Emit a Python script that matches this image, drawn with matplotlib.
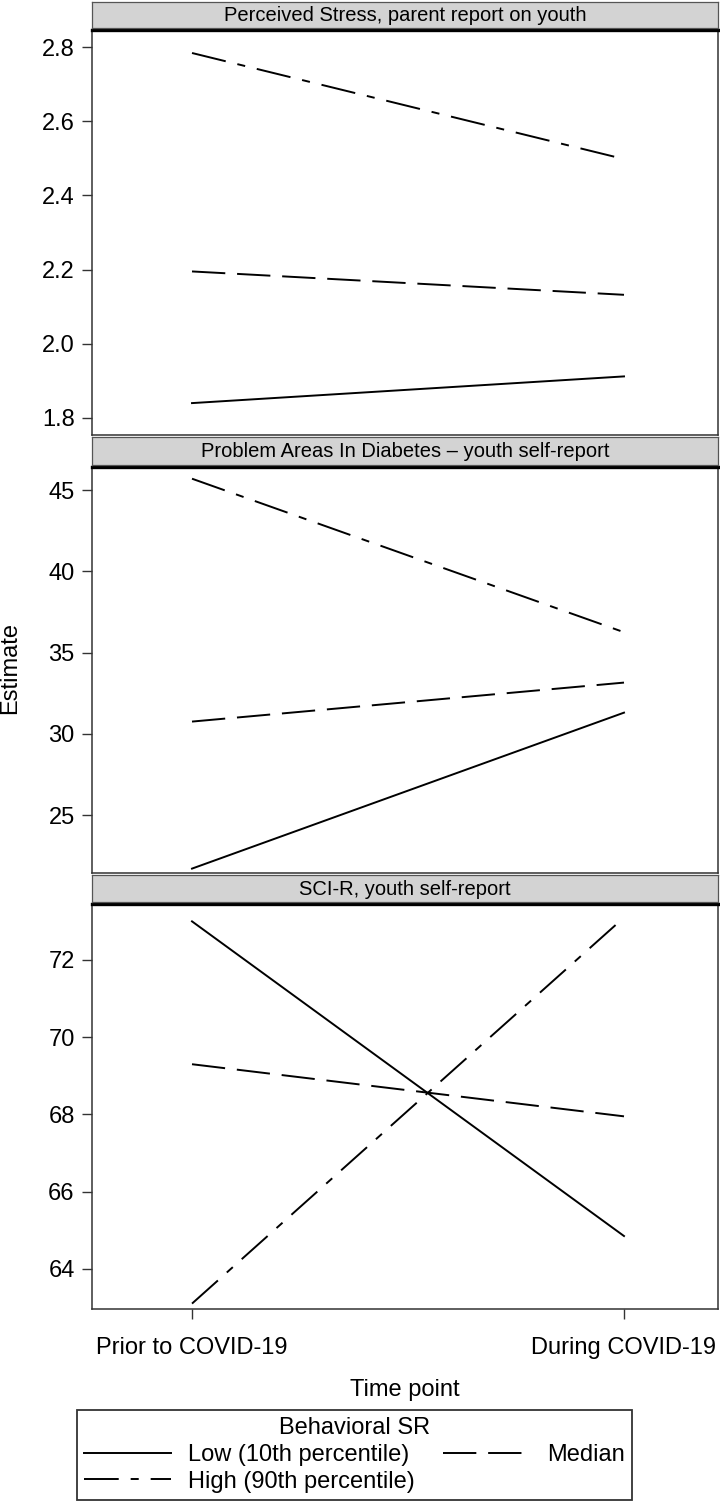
import matplotlib.pyplot as plt
from matplotlib.lines import Line2D

plt.rcParams['font.family'] = ['Liberation Sans', 'DejaVu Sans']
plt.rcParams['lines.scale_dashes'] = False

# data
time_points = ['Prior to COVID-19', 'During COVID-19']
groups = ['Low (10th percentile)', 'Median', 'High (90th percentile)']
panel_titles = ['Perceived Stress, parent report on youth',
                'Problem Areas In Diabetes \u2013 youth self-report',
                'SCI-R, youth self-report']

stress_low = [1.84, 1.912]
stress_median = [2.195, 2.132]
stress_high = [2.784, 2.498]

paid_low = [21.7, 31.3]
paid_median = [30.75, 33.15]
paid_high = [45.7, 36.25]

scir_low = [73.0, 64.85]
scir_median = [69.3, 67.95]
scir_high = [63.1, 73.1]

y_ticks = [[1.8, 2.0, 2.2, 2.4, 2.6, 2.8],
           [25, 30, 35, 40, 45],
           [64, 66, 68, 70, 72]]
y_limits = [(1.754, 2.846), (21.43, 46.42), (62.96, 73.45)]
tick_fmt = ['{:.1f}', '{:.0f}', '{:.0f}']

panels = [(stress_low, stress_median, stress_high),
          (paid_low, paid_median, paid_high),
          (scir_low, scir_median, scir_high)]

styles = [dict(linestyle='-'),
          dict(dashes=(24, 8.5)),
          dict(dashes=(25, 8.6, 5.8, 8.6))]

W, H = 720, 1502
fig = plt.figure(figsize=(W / 100, H / 100), dpi=100)


def box(x0, y0, x1, y1):
    return [x0 / W, 1 - y1 / H, (x1 - x0) / W, (y1 - y0) / H]


axes_px = [(30, 435), (467, 873), (904, 1309)]
head_px = [(2, 28), (437, 465), (875, 902)]
spine_col = '#333333'

for i, (vals, (top, bot), (htop, hbot)) in enumerate(zip(panels, axes_px, head_px)):
    ax = fig.add_axes(box(92, top, 718, bot))
    for v, st in zip(vals, styles):
        ax.plot([0, 1], v, color='black', linewidth=1.4, **st)
    ax.set_xlim(-0.2315, 1.2176)
    ax.set_ylim(*y_limits[i])
    ax.set_yticks(y_ticks[i])
    ax.set_yticklabels([tick_fmt[i].format(t) for t in y_ticks[i]])
    ax.tick_params(axis='y', length=7, width=1, labelsize=17, pad=5.5,
                   color=spine_col)
    for s in ['left', 'right', 'bottom']:
        ax.spines[s].set_color(spine_col)
        ax.spines[s].set_linewidth(1.1)
    ax.spines['top'].set_color('black')
    ax.spines['top'].set_linewidth(2.4)
    if i < 2:
        ax.set_xticks([])
    else:
        ax.set_xticks([0, 1])
        ax.set_xticklabels(time_points)
        ax.tick_params(axis='x', length=7, width=1, labelsize=17, pad=13,
                       color=spine_col)

    hax = fig.add_axes(box(92, htop, 718, hbot))
    hax.set_facecolor('#d3d3d3')
    hax.set_xticks([])
    hax.set_yticks([])
    for s in hax.spines.values():
        s.set_color('#555555')
        s.set_linewidth(0.9)
    hax.text(0.5, 0.47, panel_titles[i], ha='center', va='center',
             fontsize=14.5, transform=hax.transAxes)

fig.text(10 / W, 1 - 668 / H, 'Estimate', rotation=90, ha='center',
         va='center', fontsize=17)
fig.text(405 / W, 1 - 1390 / H, 'Time point', ha='center', va='center',
         fontsize=17)

handles = [Line2D([], [], color='black', linewidth=1.4, **styles[0]),
           Line2D([], [], color='black', linewidth=1.4, **styles[2]),
           Line2D([], [], color='black', linewidth=1.4, **styles[1])]
labels = [groups[0], groups[2], groups[1]]
leg = fig.legend(handles, labels, ncol=2, title='Behavioral SR',
                 loc='upper left', bbox_to_anchor=(77 / W, 1 - 1410 / H),
                 fontsize=17, title_fontsize=17, frameon=True, fancybox=False,
                 edgecolor='black', handlelength=3.7, handletextpad=0.7,
                 columnspacing=1.2, borderpad=0.3, labelspacing=0.2,
                 borderaxespad=0)
leg.get_frame().set_linewidth(1.3)

fig.savefig('out.png', dpi=100)
